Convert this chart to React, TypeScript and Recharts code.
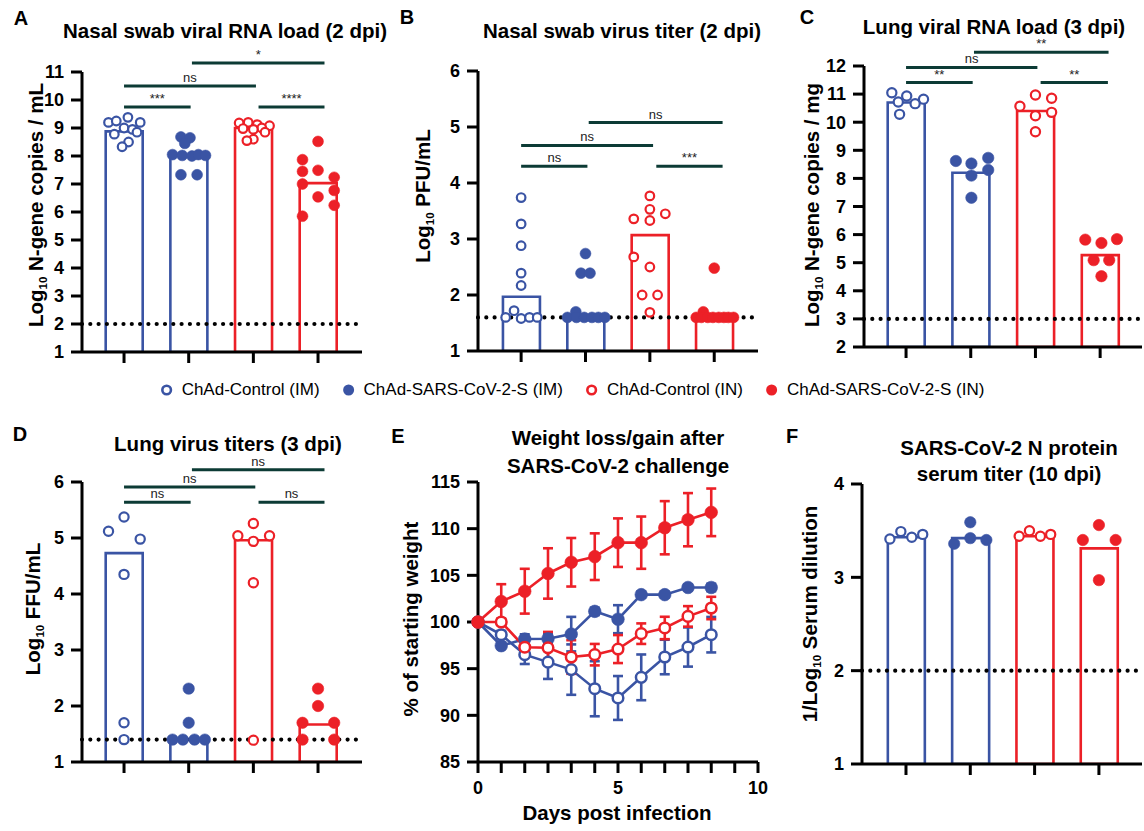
import React from 'react';
import {
  ComposedChart,
  Bar,
  Cell,
  Scatter,
  XAxis,
  YAxis,
  ReferenceLine,
  Line,
  ErrorBar,
} from 'recharts';

const BLUE = '#3a54a4';
const RED = '#ec2027';
const TEAL = '#0c3b35';
const FONT = '"Liberation Sans", Arial, Helvetica, sans-serif';

// ---------- shared categories ----------
const groupNames = ['ChAd-Control (IM)', 'ChAd-SARS-CoV-2-S (IM)', 'ChAd-Control (IN)', 'ChAd-SARS-CoV-2-S (IN)'];
const groupColors = [BLUE, BLUE, RED, RED];
const groupOpen = [true, false, true, false];
const categoryIndex = [1, 2, 3, 4];

// ---------- Panel A: Nasal swab viral RNA load (2 dpi) ----------
const aBars = [8.88, 8.03, 9.0, 7.03];
const aCtrlIM = [9.2, 9.25, 9.38, 9.2, 9.0, 8.95, 8.78, 8.85, 8.5, 8.33];
const aSIM = [8.68, 8.65, 8.45, 8.05, 8.02, 8.0, 8.05, 8.02, 7.33, 7.33];
const aCtrlIN = [9.18, 9.2, 9.12, 9.08, 9.0, 8.98, 8.85, 8.95, 8.6, 8.55];
const aSIN = [8.52, 7.87, 7.45, 7.49, 7.24, 7.0, 6.77, 6.54, 6.24, 5.85];
const aJitter = [
  [-0.24, -0.12, 0.06, 0.25, 0.0, 0.13, -0.15, 0.2, 0.07, -0.03],
  [-0.12, 0.02, -0.06, -0.25, -0.1, 0.05, 0.15, 0.26, -0.12, 0.13],
  [-0.22, -0.08, 0.06, 0.25, 0.13, -0.16, 0.18, 0.0, 0.0, -0.1],
  [0.0, -0.24, -0.24, 0.0, 0.25, -0.24, 0.25, 0.0, 0.25, -0.24],
];
const aSigLabels = ['***', 'ns', '*', '****'];
const aSigFrom = [1, 1, 2.05, 3.08];
const aSigTo = [2.03, 3.04, 4.1, 4.1];
const aSigY = [9.75, 10.5, 11.32, 9.75];

// ---------- Panel B: Nasal swab virus titer (2 dpi) ----------
const bBars = [1.97, 1.62, 3.07, 1.62];
const bCtrlIM = [3.74, 3.27, 2.88, 2.39, 2.17, 1.6, 1.72, 1.58, 1.6, 1.6];
const bSIM = [2.74, 2.39, 2.39, 1.7, 1.6, 1.6, 1.6, 1.6, 1.6, 1.6];
const bCtrlIN = [3.77, 3.53, 3.36, 3.33, 3.45, 2.68, 2.5, 2.0, 2.0, 1.69];
const bSIN = [2.48, 1.7, 1.6, 1.6, 1.6, 1.6, 1.6, 1.6, 1.6, 1.6];
const bJitter = [
  [0, 0, 0, 0, 0, -0.24, -0.11, 0.0, 0.13, 0.25],
  [0, -0.07, 0.07, -0.15, -0.28, -0.14, -0.02, 0.1, 0.2, 0.3],
  [0, 0, -0.25, 0, 0.24, -0.25, 0, -0.12, 0.12, 0],
  [0, -0.17, -0.28, -0.2, -0.1, -0.02, 0.07, 0.15, 0.22, 0.3],
];
const bSigLabels = ['ns', 'ns', 'ns', '***'];
const bSigFrom = [1, 1, 2.05, 3.1];
const bSigTo = [2.03, 3.05, 4.13, 4.13];
const bSigY = [4.3, 4.67, 5.08, 4.3];

// ---------- Panel C: Lung viral RNA load (3 dpi) ----------
const cBars = [10.7, 8.2, 10.4, 5.27];
const cCtrlIM = [11.05, 10.93, 10.82, 10.72, 10.66, 10.28];
const cSIM = [8.62, 8.53, 8.73, 8.3, 8.1, 7.31];
const cCtrlIN = [10.57, 10.97, 10.85, 10.23, 10.35, 9.66];
const cSIN = [5.82, 5.7, 5.84, 5.09, 5.09, 4.52];
const cJitter = [
  [-0.22, 0.01, 0.27, -0.12, 0.14, -0.1],
  [-0.23, 0.01, 0.27, 0.27, 0.01, 0.01],
  [-0.24, 0.0, 0.25, 0.0, 0.25, 0.0],
  [-0.23, 0.02, 0.26, -0.1, 0.14, 0.02],
];
const cSigLabels = ['**', 'ns', '**', '**'];
const cSigFrom = [1, 1, 2.05, 3.08];
const cSigTo = [2.03, 3.03, 4.13, 4.12];
const cSigY = [11.41, 11.95, 12.49, 11.41];

// ---------- Panel D: Lung virus titers (3 dpi) ----------
const dBars = [4.73, 1.4, 4.96, 1.67];
const dCtrlIM = [5.375, 5.12, 4.98, 4.35, 1.7, 1.4];
const dSIM = [2.31, 1.7, 1.4, 1.4, 1.4, 1.4];
const dCtrlIN = [5.26, 5.04, 5.04, 4.94, 4.2, 1.39];
const dSIN = [2.31, 2.0, 1.7, 1.7, 1.4, 1.4];
const dJitter = [
  [0, -0.24, 0.25, 0, 0, 0],
  [0, 0, -0.25, -0.09, 0.09, 0.25],
  [0, -0.24, 0.25, 0, 0, 0],
  [0, 0, -0.24, 0.25, -0.24, 0.25],
];
const dSigLabels = ['ns', 'ns', 'ns', 'ns'];
const dSigFrom = [1, 1, 2.05, 3.08];
const dSigTo = [2.03, 3.03, 4.1, 4.1];
const dSigY = [5.64, 5.91, 6.22, 5.64];

// ---------- Panel E: weight change ----------
const eDays = [0, 0.83, 1.67, 2.5, 3.33, 4.17, 5, 5.83, 6.67, 7.5, 8.33];
const eCtrlIM = [100, 98.64, 96.5, 95.7, 94.9, 92.85, 91.86, 94.07, 96.25, 97.32, 98.64];
const eCtrlIMSd = [0, 0.4, 1.0, 1.8, 2.7, 2.95, 2.35, 2.45, 1.85, 2.1, 1.9];
const eSIM = [100, 97.46, 98.18, 98.2, 98.7, 101.14, 100.3, 102.93, 102.93, 103.7, 103.7];
const eSIMSd = [0, 0.3, 0.5, 0.5, 1.85, 0.4, 1.5, 0.3, 0.3, 0.3, 0.4];
const eCtrlIN = [100, 100.0, 97.3, 97.24, 96.25, 96.5, 97.1, 98.75, 99.36, 100.6, 101.5];
const eCtrlINSd = [0, 0.3, 0.8, 1.7, 1.8, 1.15, 1.5, 1.1, 1.2, 1.1, 1.2];
const eSIN = [100, 102.2, 103.3, 105.2, 106.4, 107.0, 108.5, 108.5, 110.1, 110.96, 111.75];
const eSINSd = [0, 1.85, 2.4, 2.7, 2.6, 2.5, 2.6, 2.8, 2.85, 2.85, 2.55];
const eXTicks = [0, 0.83, 1.67, 2.5, 3.33, 4.17, 5, 5.83, 6.67, 7.5, 8.33, 9.17, 10];
const eXTickLabels: Record<string, string> = { '0': '0', '5': '5', '10': '10' };
const eYTicks = [85, 90, 95, 100, 105, 110, 115];

// ---------- Panel F: N protein serum titer (10 dpi) ----------
const fBars = [3.43, 3.42, 3.44, 3.31];
const fCtrlIM = [3.41, 3.49, 3.43, 3.46];
const fSIM = [3.59, 3.36, 3.42, 3.4];
const fCtrlIN = [3.44, 3.5, 3.44, 3.46];
const fSIN = [3.56, 3.4, 3.4, 2.97];
const fJitter = [
  [-0.25, -0.08, 0.09, 0.26],
  [0, -0.25, 0, 0.25],
  [-0.24, -0.08, 0.09, 0.25],
  [0, -0.25, 0.26, 0],
];

// ---------- helpers ----------
type Box = { left: number; top: number; w: number; h: number };
type Plot = { l: number; r: number; t: number; b: number };

const YW = 50;

const axisStyle = { stroke: '#000', strokeWidth: 3 };
const tickStyle = { fontSize: 18, fontWeight: 700, fill: '#000' };

function dotShape(color: string, open: boolean, r: number) {
  return (p: any) => (
    <circle
      cx={p.cx}
      cy={p.cy}
      r={open ? r - 1.1 : r}
      fill={open ? '#fff' : color}
      stroke={color}
      strokeWidth={open ? 2.2 : 0.6}
    />
  );
}

type BarPanelProps = {
  box: Box;
  plot: Plot;
  xDomain: [number, number];
  yDomain: [number, number];
  yTicks: number[];
  bars: number[];
  series: number[][];
  jitter: number[][];
  lod: number;
  sigLabels?: string[];
  sigFrom?: number[];
  sigTo?: number[];
  sigY?: number[];
  r: number;
};

function BarPanel(props: BarPanelProps) {
  const { box, plot, xDomain, yDomain, yTicks, bars, series, jitter, lod, r } = props;
  const XH = 16;
  const margin = {
    top: plot.t - box.top,
    left: plot.l - box.left - YW,
    right: box.left + box.w - plot.r,
    bottom: box.top + box.h - plot.b - XH,
  };
  // padding for the category axis so its band centres line up with the numeric axis 1..4
  const spacing = (plot.r - plot.l) / (xDomain[1] - xDomain[0]);
  const padL = (0.5 - xDomain[0]) * spacing;
  const padR = (xDomain[1] - 4.5) * spacing;
  const barData = categoryIndex.map((c, i) => ({ name: groupNames[i], x: c, v: bars[i] }));
  const pts = series.map((vals, g) => vals.map((v, i) => ({ x: categoryIndex[g] + jitter[g][i], v })));
  const sig = (props.sigLabels || []).map((lab, i) => ({
    lab,
    from: props.sigFrom![i],
    to: props.sigTo![i],
    y: props.sigY![i],
  }));
  return (
    <div style={{ position: 'absolute', left: box.left, top: box.top, width: box.w, height: box.h }}>
      <ComposedChart width={box.w} height={box.h} data={barData} margin={margin} barCategoryGap={0}>
        <XAxis
          xAxisId="cat"
          type="category"
          dataKey="name"
          padding={{ left: padL, right: padR }}
          tickFormatter={() => ''}
          height={XH}
          axisLine={axisStyle}
          tickLine={axisStyle}
          tickSize={11}
          interval={0}
        />
        <XAxis
          xAxisId={0}
          type="number"
          dataKey="x"
          domain={xDomain}
          hide
          height={0}
          allowDataOverflow
        />
        <YAxis
          type="number"
          domain={yDomain}
          ticks={yTicks}
          interval={0}
          width={YW}
          axisLine={axisStyle}
          tickLine={axisStyle}
          tickSize={11}
          tickMargin={7}
          tick={tickStyle}
          allowDataOverflow
        />
        <Bar xAxisId="cat" dataKey="v" barSize={37} fill="#fff" strokeWidth={2.6} isAnimationActive={false}>
          {barData.map((d, i) => (
            <Cell key={i} stroke={groupColors[i]} fill="#fff" />
          ))}
        </Bar>
        <ReferenceLine
          y={lod}
          stroke="#000"
          strokeWidth={4.2}
          strokeDasharray="0 8.3"
          strokeLinecap="round"
          ifOverflow="visible"
        />
        {pts.map((data, g) => (
          <Scatter
            key={g}
            data={data}
            dataKey="v"
            isAnimationActive={false}
            shape={dotShape(groupColors[g], groupOpen[g], r)}
          />
        ))}
        {sig.map((s, i) => (
          <ReferenceLine
            key={'s' + i}
            segment={[
              { x: s.from, y: s.y },
              { x: s.to, y: s.y },
            ]}
            stroke={TEAL}
            strokeWidth={3}
            ifOverflow="visible"
            label={{ value: s.lab, position: 'top', fill: '#222', fontSize: 13, offset: 4 }}
          />
        ))}
      </ComposedChart>
    </div>
  );
}

function WeightPanel() {
  const box: Box = { left: 390, top: 420, w: 380, h: 410 };
  const plot: Plot = { l: 478, r: 758, t: 482, b: 762 };
  const XH = 32;
  const margin = {
    top: plot.t - box.top,
    left: plot.l - box.left - YW,
    right: box.left + box.w - plot.r,
    bottom: box.top + box.h - plot.b - XH,
  };
  const data = eDays.map((d, i) => ({
    day: d,
    cIM: eCtrlIM[i],
    cIMe: eCtrlIMSd[i],
    sIM: eSIM[i],
    sIMe: eSIMSd[i],
    cIN: eCtrlIN[i],
    cINe: eCtrlINSd[i],
    sIN: eSIN[i],
    sINe: eSINSd[i],
  }));
  const series = [
    { key: 'cIM', err: 'cIMe', color: BLUE, open: true },
    { key: 'sIM', err: 'sIMe', color: BLUE, open: false },
    { key: 'cIN', err: 'cINe', color: RED, open: true },
    { key: 'sIN', err: 'sINe', color: RED, open: false },
  ];
  return (
    <div style={{ position: 'absolute', left: box.left, top: box.top, width: box.w, height: box.h }}>
      <ComposedChart width={box.w} height={box.h} data={data} margin={margin}>
        <XAxis
          type="number"
          dataKey="day"
          domain={[0, 10]}
          ticks={eXTicks}
          interval={0}
          tickFormatter={(v: number) => eXTickLabels[String(v)] ?? ''}
          height={XH}
          axisLine={axisStyle}
          tickLine={axisStyle}
          tickSize={11}
          tickMargin={8}
          tick={tickStyle}
        />
        <YAxis
          type="number"
          domain={[85, 115]}
          ticks={eYTicks}
          interval={0}
          width={YW}
          axisLine={axisStyle}
          tickLine={axisStyle}
          tickSize={11}
          tickMargin={7}
          tick={tickStyle}
        />
        {series.map((s) => (
          <Line
            key={s.key}
            type="linear"
            dataKey={s.key}
            stroke={s.color}
            strokeWidth={2.6}
            isAnimationActive={false}
            dot={
              s.open
                ? { r: 5.3, fill: '#fff', stroke: s.color, strokeWidth: 2.5 }
                : { r: 6.3, fill: s.color, stroke: s.color, strokeWidth: 0.6 }
            }
            activeDot={false}
          >
            <ErrorBar dataKey={s.err} width={5} stroke={s.color} strokeWidth={2.6} />
          </Line>
        ))}
      </ComposedChart>
    </div>
  );
}

function Txt(props: {
  x: number;
  y: number;
  size: number;
  bold?: boolean;
  rotate?: boolean;
  children: React.ReactNode;
}) {
  return (
    <div
      style={{
        position: 'absolute',
        left: props.x,
        top: props.y,
        transform: `translate(-50%, -50%)${props.rotate ? ' rotate(-90deg)' : ''}`,
        fontSize: props.size,
        fontWeight: props.bold ? 700 : 400,
        whiteSpace: 'nowrap',
        lineHeight: 1,
        color: '#000',
      }}
    >
      {props.children}
    </div>
  );
}

const Sub10 = () => (
  <span style={{ fontSize: '0.56em', position: 'relative', top: '0.32em' }}>10</span>
);

function Legend() {
  return (
    <div
      style={{
        position: 'absolute',
        left: 572,
        top: 390,
        transform: 'translate(-50%, -50%)',
        display: 'flex',
        alignItems: 'center',
        whiteSpace: 'nowrap',
        fontSize: 17,
      }}
    >
      {groupNames.map((name, i) => (
        <div key={name} style={{ display: 'flex', alignItems: 'center', marginRight: i < 3 ? 22 : 0 }}>
          <svg width={14} height={14} style={{ marginRight: 8 }}>
            {groupOpen[i] ? (
              <circle cx={7} cy={7} r={4.3} fill="#fff" stroke={groupColors[i]} strokeWidth={2.6} />
            ) : (
              <circle cx={7} cy={7} r={5.5} fill={groupColors[i]} />
            )}
          </svg>
          <span>{name}</span>
        </div>
      ))}
    </div>
  );
}

export default function App() {
  const T = 20.5;
  return (
    <div
      style={{
        position: 'absolute',
        left: 0,
        top: 0,
        width: 1144,
        height: 831,
        overflow: 'hidden',
        background: '#fff',
        fontFamily: FONT,
      }}
    >
      <BarPanel
        box={{ left: 0, top: 0, w: 380, h: 380 }}
        plot={{ l: 82, r: 362, t: 72, b: 352 }}
        xDomain={[0.35, 4.68]}
        yDomain={[1, 11]}
        yTicks={[1, 2, 3, 4, 5, 6, 7, 8, 9, 10, 11]}
        bars={aBars}
        series={[aCtrlIM, aSIM, aCtrlIN, aSIN]}
        jitter={aJitter}
        lod={2}
        sigLabels={aSigLabels}
        sigFrom={aSigFrom}
        sigTo={aSigTo}
        sigY={aSigY}
        r={5.4}
      />
      <BarPanel
        box={{ left: 380, top: 0, w: 385, h: 380 }}
        plot={{ l: 478, r: 758, t: 71, b: 351 }}
        xDomain={[0.33, 4.68]}
        yDomain={[1, 6]}
        yTicks={[1, 2, 3, 4, 5, 6]}
        bars={bBars}
        series={[bCtrlIM, bSIM, bCtrlIN, bSIN]}
        jitter={bJitter}
        lod={1.6}
        sigLabels={bSigLabels}
        sigFrom={bSigFrom}
        sigTo={bSigTo}
        sigY={bSigY}
        r={5.4}
      />
      <BarPanel
        box={{ left: 770, top: 0, w: 374, h: 380 }}
        plot={{ l: 864, r: 1142, t: 66, b: 347 }}
        xDomain={[0.35, 4.647]}
        yDomain={[2, 12]}
        yTicks={[2, 3, 4, 5, 6, 7, 8, 9, 10, 11, 12]}
        bars={cBars}
        series={[cCtrlIM, cSIM, cCtrlIN, cSIN]}
        jitter={cJitter}
        lod={3}
        sigLabels={cSigLabels}
        sigFrom={cSigFrom}
        sigTo={cSigTo}
        sigY={cSigY}
        r={5.7}
      />
      <BarPanel
        box={{ left: 0, top: 420, w: 380, h: 410 }}
        plot={{ l: 82, r: 362, t: 482, b: 762 }}
        xDomain={[0.35, 4.68]}
        yDomain={[1, 6]}
        yTicks={[1, 2, 3, 4, 5, 6]}
        bars={dBars}
        series={[dCtrlIM, dSIM, dCtrlIN, dSIN]}
        jitter={dJitter}
        lod={1.4}
        sigLabels={dSigLabels}
        sigFrom={dSigFrom}
        sigTo={dSigTo}
        sigY={dSigY}
        r={5.7}
      />
      <WeightPanel />
      <BarPanel
        box={{ left: 780, top: 420, w: 364, h: 410 }}
        plot={{ l: 862, r: 1142, t: 484, b: 764 }}
        xDomain={[0.316, 4.67]}
        yDomain={[1, 4]}
        yTicks={[1, 2, 3, 4]}
        bars={fBars}
        series={[fCtrlIM, fSIM, fCtrlIN, fSIN]}
        jitter={fJitter}
        lod={2}
        r={5.7}
      />

      {/* panel letters */}
      <Txt x={21} y={18} size={20} bold>A</Txt>
      <Txt x={407} y={17} size={20} bold>B</Txt>
      <Txt x={807} y={17} size={20} bold>C</Txt>
      <Txt x={20} y={434} size={20} bold>D</Txt>
      <Txt x={398} y={436} size={20} bold>E</Txt>
      <Txt x={792} y={436} size={20} bold>F</Txt>

      {/* titles */}
      <Txt x={225} y={31} size={T} bold>Nasal swab viral RNA load (2 dpi)</Txt>
      <Txt x={622} y={31} size={T} bold>Nasal swab virus titer (2 dpi)</Txt>
      <Txt x={994} y={27} size={T} bold>Lung viral RNA load (3 dpi)</Txt>
      <Txt x={228} y={444} size={T} bold>Lung virus titers (3 dpi)</Txt>
      <Txt x={618} y={438} size={T} bold>Weight loss/gain after</Txt>
      <Txt x={618} y={466} size={T} bold>SARS-CoV-2 challenge</Txt>
      <Txt x={1009} y={448} size={T} bold>SARS-CoV-2 N protein</Txt>
      <Txt x={1009} y={474} size={T} bold>serum titer (10 dpi)</Txt>

      {/* y-axis labels */}
      <Txt x={36} y={205} size={T} bold rotate>
        Log<Sub10 /> N-gene copies / mL
      </Txt>
      <Txt x={423} y={196} size={T} bold rotate>
        Log<Sub10 /> PFU/mL
      </Txt>
      <Txt x={812} y={205} size={T} bold rotate>
        Log<Sub10 /> N-gene copies / mg
      </Txt>
      <Txt x={33} y={609} size={T} bold rotate>
        Log<Sub10 /> FFU/mL
      </Txt>
      <Txt x={411} y={619} size={T} bold rotate>
        % of starting weight
      </Txt>
      <Txt x={810} y={614} size={T} bold rotate>
        1/Log<Sub10 /> Serum dilution
      </Txt>

      {/* x-axis label E */}
      <Txt x={617} y={813} size={T} bold>Days post infection</Txt>

      <Legend />
    </div>
  );
}
